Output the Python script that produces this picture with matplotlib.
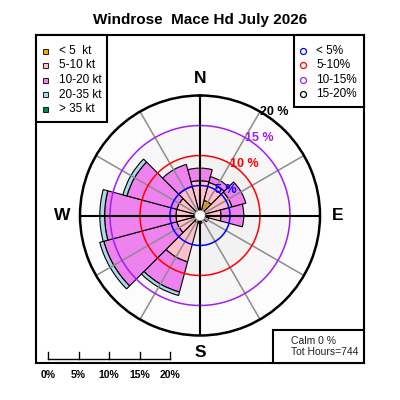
import numpy as np
import matplotlib.pyplot as plt
from matplotlib.patches import Rectangle
from matplotlib.lines import Line2D

plt.rcParams['font.family'] = ['Liberation Sans', 'DejaVu Sans']

# wind data: 12 direction sectors, percent of hours per speed class
directions = [0, 30, 60, 90, 120, 150, 180, 210, 240, 270, 300, 330]
lt5 = [0.3, 2.6, 0.3, 0.3, 0.3, 0.2, 0.8, 1.2, 0.5, 0.4, 0.4, 0.4]
s5_10 = [5.5, 3.1, 5.2, 3.2, 1.2, 0.5, 0.5, 6.8, 3.5, 3.6, 3.6, 4.6]
s10_20 = [2.1, 1.0, 2.4, 3.8, 0.0, 0.0, 0.0, 5.2, 12.6, 11.9, 8.6, 3.8]
s20_35 = [0.0, 0.0, 0.0, 0.0, 0.0, 0.0, 0.0, 0.6, 0.7, 0.8, 0.7, 0.0]
gt35 = [0.0] * 12

speed_labels = ['< 5  kt', '5-10 kt', '10-20 kt', '20-35 kt', '> 35 kt']
speed_colors = ['#FFA500', '#FFC0CB', '#EE82EE', '#ADD8E6', '#008B45']
ring_pcts = [5, 10, 15, 20]
ring_labels = ['< 5%', '5-10%', '10-15%', '15-20%']
ring_colors = ['#0000FF', '#FF0000', '#A020F0', '#000000']
ring_fills = ['#EBEBEB', '#F2F2F2', '#F7F7F7', '#FCFCFC']
scale_labels = ['0%', '5%', '10%', '15%', '20%']
calm_pct = 0
tot_hours = 744

fig = plt.figure(figsize=(4, 4), dpi=100)

# polar rose: centre at (200, 215.5) px, 20 % = 120 px
ax = fig.add_axes([0.2, 0.16125, 0.6, 0.6], projection='polar')
ax.set_theta_zero_location('N')
ax.set_theta_direction(-1)
ax.set_ylim(0, 20)
ax.grid(False)
ax.set_xticks([])
ax.set_yticks([])
ax.patch.set_alpha(0)
ax.spines['polar'].set_linewidth(1.8)
ax.spines['polar'].set_zorder(6)

full = np.linspace(0, 2 * np.pi, 361)
for r, fc in zip(ring_pcts[::-1], ring_fills[::-1]):
    ax.fill_between(full, 0, r, color=fc, lw=0, zorder=0)

theta = np.deg2rad(directions)
width = np.deg2rad(30)
bottom = np.zeros(len(directions))
for vals, col in zip([lt5, s5_10, s10_20, s20_35, gt35], speed_colors):
    vals = np.array(vals)
    m = vals > 0
    ax.bar(theta[m], vals[m], width=width, bottom=bottom[m], color=col,
           edgecolor='black', linewidth=0.8, zorder=1)
    bottom += vals

for d in directions:
    if d % 90 == 0:
        continue
    ax.plot([np.deg2rad(d)] * 2, [0, 20], color='#8C8C8C', lw=1.1, zorder=2)

for r, col in zip(ring_pcts[:3], ring_colors[:3]):
    ax.plot(full, [r] * len(full), color=col, lw=1.1, zorder=3)

for d in [0, 90, 180, 270]:
    ax.plot([np.deg2rad(d)] * 2, [0, 20], color='black', lw=1.5, zorder=4)

ax.fill(full, [0.85] * len(full), facecolor='white', edgecolor='#999999',
        lw=0.5, zorder=5)

for r, col in zip(ring_pcts, ring_colors):
    ax.text(np.deg2rad(30), r, '%d %%' % r, color=col, fontsize=9,
            fontweight='bold', ha='left', va='center', zorder=7)

for lab, d in zip(['N', 'E', 'S', 'W'], [0, 90, 180, 270]):
    ax.text(np.deg2rad(d), 22.9, lab, fontsize=12.5, fontweight='bold',
            ha='center', va='center')

# overlay in pixel coordinates for frame, legends and scale
ov = fig.add_axes([0, 0, 1, 1])
ov.set_xlim(0, 400)
ov.set_ylim(400, 0)
ov.axis('off')
ov.patch.set_alpha(0)

ov.add_patch(Rectangle((36, 35), 328, 328, fill=False, lw=1.5, ec='black'))
ov.add_patch(Rectangle((36, 35), 71, 87, fc='white', lw=1.5, ec='black'))
ov.add_patch(Rectangle((294, 35), 70, 72, fc='white', lw=1.5, ec='black'))
ov.add_patch(Rectangle((273, 330), 91, 33, fc='white', lw=1.5, ec='black'))

fig.text(0.5, 1 - 20 / 400, 'Windrose  Mace Hd July 2026', ha='center',
         va='center', fontsize=11, fontweight='bold')

for i, (lab, col) in enumerate(zip(speed_labels, speed_colors)):
    y = 51 + i * 14.5
    ov.add_patch(Rectangle((43.3, y - 2.5), 5, 5, fc=col, ec='black', lw=0.6))
    ov.text(59, y, lab, fontsize=8.5, ha='left', va='center')

for i, (lab, col) in enumerate(zip(ring_labels, ring_colors)):
    y = 50.7 + i * 14.5
    ov.add_line(Line2D([303.3], [y], marker='o', ms=4.3, mfc='none', mec=col,
                       mew=0.9))
    ov.text(316, y, lab, fontsize=8.5, ha='left', va='center')

ov.text(291, 341, 'Calm %d %%' % calm_pct, fontsize=7.5, ha='left',
        va='center', color='#222222')
ov.text(291, 352, 'Tot Hours=%d' % tot_hours, fontsize=7.5, ha='left',
        va='center', color='#222222')

x0, step, ybar = 48, 30.5, 359
ov.plot([x0, x0 + 4 * step], [ybar, ybar], color='black', lw=1)
for i, lab in enumerate(scale_labels):
    x = x0 + i * step
    ov.plot([x, x], [ybar, ybar - 7.5], color='black', lw=1)
    ov.text(x, 375, lab, fontsize=7.5, fontweight='bold', ha='center',
            va='center')

fig.savefig('out.png', dpi=100)
